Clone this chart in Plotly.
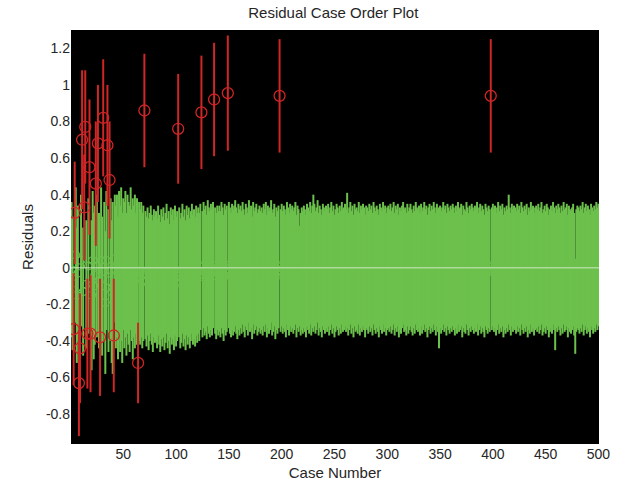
import numpy as np
import plotly.graph_objects as go

# Confidence-interval bounds for each case (hundredths of a residual unit), cases 1..500
lo_pct = [
    -38,-45,-64,2,-30,-52,-40,-92,-74,-32,32,-48,4,46,-44,-66,-36,18,-68,-56,
    -34,-50,-42,12,-38,36,-44,-70,-36,-48,50,-40,-58,-34,34,-46,16,-40,-52,-58,
    -68,-30,-44,-38,-50,-36,-46,-40,-52,-34,-44,-38,-48,-36,-42,-46,-34,-40,-50,-38,
    -44,-36,-42,-74,-40,-42,-38,-44,-40,55,-39,-43,-37,-45,-40,-36,-42,-46,-38,-41,
    -40,-44,-37,-42,-46,-39,-43,-38,-45,-41,-36,-44,-40,-47,-38,-42,-39,-45,-37,-43,
    -40,46,-38,-44,-41,-36,-43,-39,-45,-37,-42,-38,-44,-40,-36,-42,-39,-43,-37,-41,
    -36,-40,-34,54,-38,-33,-37,-35,-39,-32,-36,-38,-34,-37,-33,61,-36,-39,-34,-37,
    -35,-38,-33,-36,-40,-34,-37,-35,64,-33,-36,-38,-34,-37,-35,-32,-36,-39,-34,-37,
    -33,-36,-31,-35,-38,-32,-34,-37,-30,-35,-33,-39,-31,-36,-34,-32,-37,-35,-33,-36,
    -34,-37,-32,-35,-31,-38,-33,-36,-34,-30,-37,-35,-32,-39,-34,-36,-33,63,-35,-32,
    -36,-33,-35,-38,-31,-34,-37,-32,-35,-33,-36,-34,-31,-38,-33,-35,-32,-37,-34,-36,
    -33,-35,-38,-32,-34,-36,-31,-37,-33,-35,-32,-36,-34,-30,-37,-33,-35,-38,-32,-34,
    -36,-33,-35,-32,-37,-34,-31,-36,-33,-38,-35,-32,-34,-37,-33,-36,-31,-35,-34,-32,
    -35,-33,-37,-34,-31,-36,-33,-38,-32,-35,-34,-36,-31,-37,-33,-35,-32,-34,-38,-33,
    -34,-36,-32,-35,-33,-37,-31,-34,-36,-33,-35,-38,-32,-34,-36,-31,-35,-33,-37,-34,
    -33,-35,-32,-36,-34,-31,-37,-33,-35,-32,-38,-34,-36,-33,-31,-35,-34,-37,-32,-36,
    -34,-32,-35,-37,-33,-36,-31,-34,-35,-33,-37,-32,-36,-34,-31,-35,-33,-38,-34,-32,
    -36,-33,-35,-31,-34,-37,-32,-35,-44,-33,-36,-34,-31,-35,-33,-37,-32,-34,-36,-33,
    -35,-32,-34,-37,-33,-36,-31,-35,-34,-32,-38,-33,-35,-36,-31,-34,-37,-33,-35,-32,
    -34,-36,-33,-35,-31,-37,-34,-32,-36,-33,-35,-38,-32,-34,-36,-33,-35,63,-34,-32,
    -35,-33,-37,-34,-31,-36,-33,-35,-32,-38,-34,-36,-33,-35,-31,-34,-37,-32,-35,-33,
    -34,-36,-32,-35,-33,-37,-31,-34,-36,-33,-35,-32,-38,-34,-36,-31,-35,-33,-37,-34,
    -33,-35,-32,-36,-34,-31,-37,-35,-33,-36,-32,-34,-38,-35,-33,-36,-31,-34,-45,-33,
    -35,-32,-34,-37,-33,-36,-31,-35,-34,-32,-38,-33,-35,-36,-34,-32,-37,-47,-35,-33,
    -34,-36,-33,-35,-31,-37,-34,-32,-36,-33,-35,-38,-32,-34,-36,-33,-35,-31,-34,-32,
]
hi_pct = [
    36,28,-3,58,44,22,34,-34,-14,40,108,22,62,108,26,-6,38,92,-4,26,
    42,30,34,80,40,100,30,-6,44,28,114,36,20,42,100,32,80,38,26,36,
    -6,40,34,40,28,42,34,44,30,38,36,42,30,40,36,34,44,32,38,34,
    40,30,38,-30,36,32,36,30,34,117,31,28,33,27,30,34,29,26,32,28,
    31,27,34,29,25,32,28,33,26,30,35,27,31,24,33,29,32,26,34,28,
    31,106,33,27,30,35,28,32,26,34,29,33,27,31,35,29,32,28,34,30,
    33,30,35,116,31,36,32,34,29,37,33,31,35,32,36,123,33,30,34,31,
    34,31,36,33,29,35,32,34,127,36,33,30,35,32,34,37,33,30,35,32,
    34,31,36,32,29,35,33,30,37,32,34,28,36,31,33,35,30,32,34,31,
    33,30,35,32,36,29,34,31,33,37,30,32,35,28,33,31,34,125,32,35,
    31,34,32,29,36,33,30,35,32,34,31,33,36,29,34,32,23,30,33,31,
    34,32,29,35,33,31,36,30,34,40,35,31,33,37,30,34,32,29,35,33,
    31,34,32,35,30,33,36,31,34,29,32,35,33,30,34,31,36,32,33,35,
    32,41,30,33,36,31,34,29,35,32,33,31,36,30,34,32,35,33,29,34,
    33,31,35,32,34,30,36,33,31,34,32,29,35,33,31,36,32,34,30,33,
    34,32,35,31,33,36,30,34,32,35,29,33,31,34,36,32,33,30,35,31,
    33,35,32,30,34,31,36,33,32,34,30,35,31,33,36,32,34,29,33,35,
    31,34,32,36,33,30,35,32,33,34,31,33,36,32,34,30,35,33,31,34,
    32,35,33,30,34,31,36,32,33,35,29,34,32,31,36,33,30,34,32,35,
    33,31,34,32,36,30,33,35,31,34,32,29,35,33,31,34,32,125,33,35,
    32,34,30,33,36,31,34,32,35,29,33,31,34,32,40,33,30,35,32,34,
    33,31,35,32,34,30,36,33,31,34,32,35,29,33,31,36,32,34,30,33,
    34,32,35,31,33,36,30,32,34,31,35,33,29,32,34,31,36,33,30,34,
    32,35,33,30,34,31,36,32,33,35,29,34,32,31,33,35,30,5,32,34,
    33,31,34,32,36,30,33,35,31,34,32,29,35,33,31,34,32,36,33,35,
]

x_tick_vals = [50, 100, 150, 200, 250, 300, 350, 400, 450, 500]
y_tick_vals = [-0.8, -0.6, -0.4, -0.2, 0, 0.2, 0.4, 0.6, 0.8, 1, 1.2]
y_tick_text = ["-0.8", "-0.6", "-0.4", "-0.2", "0", "0.2", "0.4", "0.6", "0.8", "1", "1.2"]

assert len(lo_pct) == 500 and len(hi_pct) == 500, (len(lo_pct), len(hi_pct))

lo = np.array(lo_pct) / 100.0
hi = np.array(hi_pct) / 100.0
res = (lo + hi) / 2.0
case = np.arange(1, len(res) + 1)
outlier = (lo > 0) | (hi < 0)
ok = ~outlier

GREEN = "#6cc04c"
RED = "#cf2626"
FONT = "Liberation Sans, Arial, sans-serif"

fig = go.Figure()
fig.add_trace(go.Scatter(
    x=case[ok], y=res[ok], mode="markers",
    marker=dict(symbol="circle-open", size=8, color=GREEN, line=dict(width=1, color=GREEN)),
    error_y=dict(type="data", symmetric=False, array=(hi - res)[ok], arrayminus=(res - lo)[ok],
                 color=GREEN, thickness=2, width=0),
    showlegend=False, hoverinfo="skip",
))
fig.add_trace(go.Scatter(
    x=case[outlier], y=res[outlier], mode="markers",
    marker=dict(symbol="circle-open", size=11, color=RED, line=dict(width=1.3, color=RED)),
    error_y=dict(type="data", symmetric=False, array=(hi - res)[outlier], arrayminus=(res - lo)[outlier],
                 color=RED, thickness=2, width=0),
    showlegend=False, hoverinfo="skip",
))
fig.add_hline(y=0, line=dict(color="#cfe8c4", width=1), layer="above")

fig.update_layout(
    width=623, height=491,
    margin=dict(l=71, r=24, t=30, b=43),
    paper_bgcolor="white", plot_bgcolor="black",
    font=dict(family=FONT, size=14, color="#262626"),
    title=dict(text="Residual Case Order Plot", x=0.535, xanchor="center", y=0.975, yanchor="middle",
               font=dict(family=FONT, size=15, color="#262626")),
    xaxis=dict(range=[0.5, 500.5], tickvals=x_tick_vals, showgrid=False, zeroline=False,
               showline=False, ticks="", title=dict(text="Case Number", standoff=6,
               font=dict(size=15))),
    yaxis=dict(range=[-0.963, 1.30], tickvals=y_tick_vals, ticktext=y_tick_text, showgrid=False,
               zeroline=False, showline=False, ticks="",
               title=dict(text="Residuals", standoff=8, font=dict(size=15))),
)

fig.write_html("out.html")
